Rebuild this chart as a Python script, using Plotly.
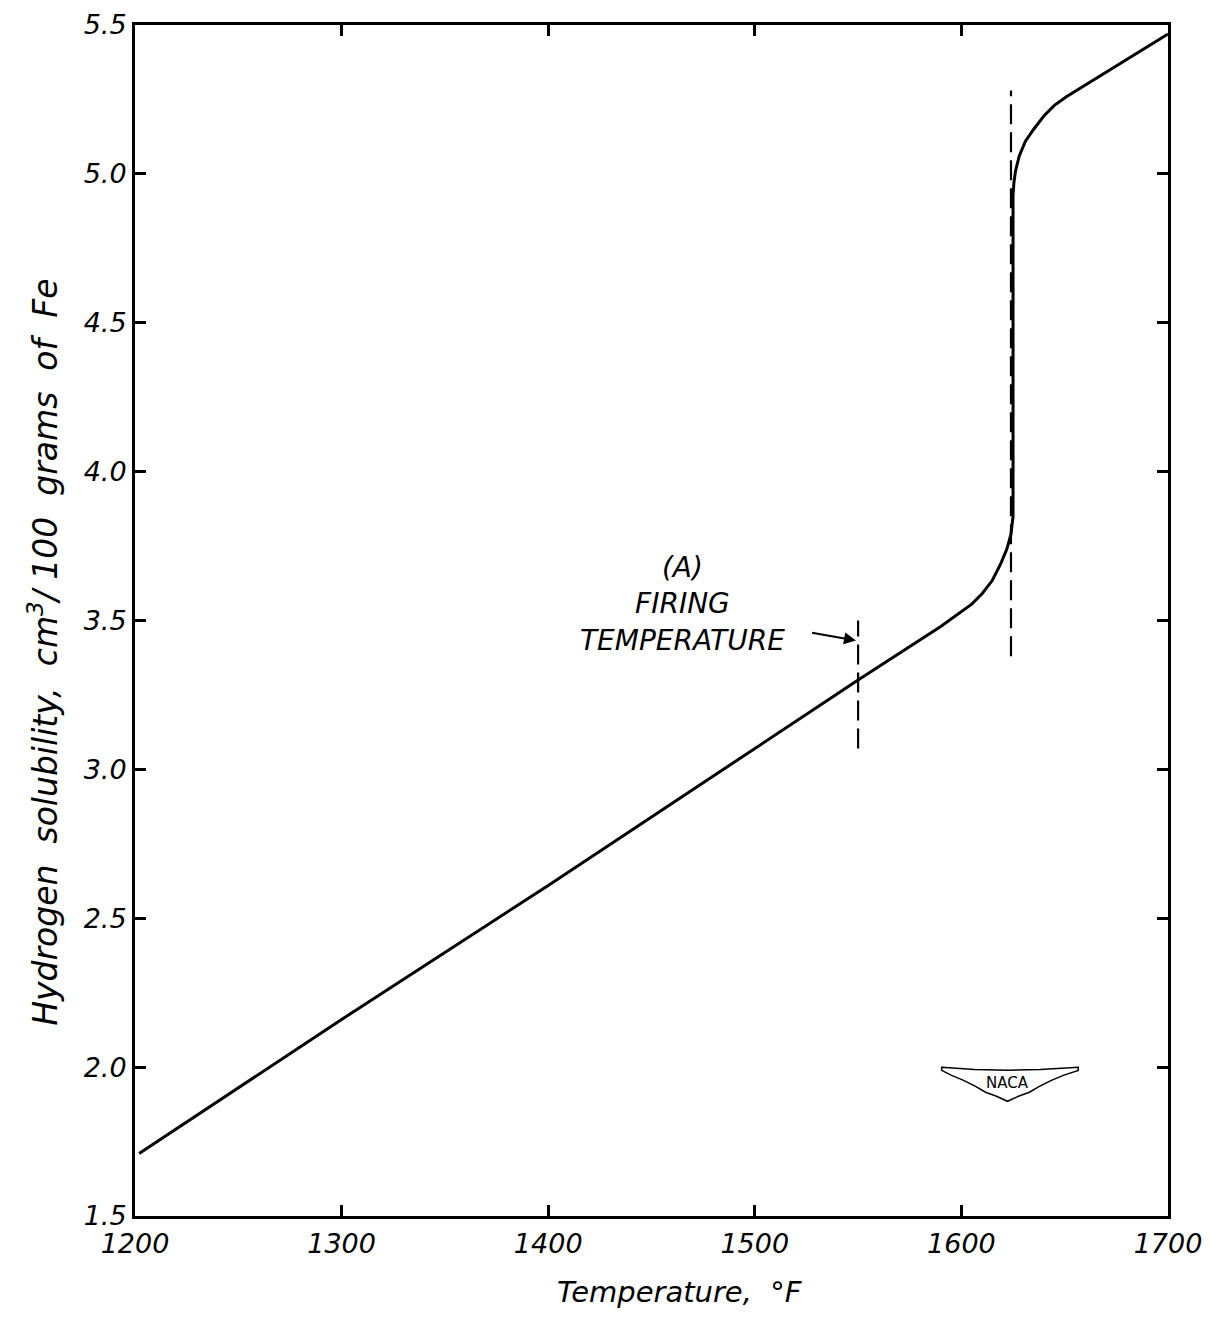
import plotly.graph_objects as go

# ---- data ----
temperature_f = [1202, 1300, 1400, 1500, 1550, 1590, 1600, 1605, 1610, 1615, 1619,
                 1622, 1624, 1625, 1625, 1625.4, 1626.2, 1628, 1631, 1635, 1640,
                 1645, 1651, 1700]
solubility = [1.71, 2.16, 2.61, 3.07, 3.30, 3.48, 3.53, 3.555, 3.59, 3.635, 3.69,
              3.74, 3.79, 3.85, 4.93, 4.97, 5.01, 5.06, 5.11, 5.15, 5.195,
              5.23, 5.26, 5.47]

firing_x = [1550, 1550]
firing_y = [3.07, 3.50]
transition_x = [1624, 1624]
transition_y = [3.38, 5.28]

x_ticks = [1200, 1300, 1400, 1500, 1600, 1700]
y_ticks = [1.5, 2.0, 2.5, 3.0, 3.5, 4.0, 4.5, 5.0, 5.5]
y_tick_labels = ["1.5", "2.0", "2.5", "3.0", "3.5", "4.0", "4.5", "5.0", "5.5"]

firing_label = "(A)<br>FIRING<br>TEMPERATURE"
firing_label_x = 1465
firing_label_y = 3.555

FONT = "DejaVu Sans"

fig = go.Figure()
fig.add_trace(go.Scatter(x=temperature_f, y=solubility, mode="lines",
                         line=dict(color="black", width=3), showlegend=False,
                         hoverinfo="skip"))
fig.add_trace(go.Scatter(x=firing_x, y=firing_y, mode="lines",
                         line=dict(color="black", width=2.2, dash="20px,8px"),
                         showlegend=False, hoverinfo="skip"))
fig.add_trace(go.Scatter(x=transition_x, y=transition_y, mode="lines",
                         line=dict(color="black", width=2.2, dash="20px,8px"),
                         showlegend=False, hoverinfo="skip"))

fig.add_annotation(x=firing_label_x, y=firing_label_y, xref="x", yref="y",
                   text=firing_label, showarrow=False, align="center",
                   xanchor="center", yanchor="middle",
                   font=dict(family=FONT, size=28, color="black", style="italic"))

# arrow pointing to firing temperature line
fig.add_annotation(x=1549, y=3.433, xref="x", yref="y", ax=1527, ay=3.46,
                   axref="x", ayref="y", text="", showarrow=True,
                   arrowhead=2, arrowsize=1.2, arrowwidth=2, arrowcolor="black")

# axis titles
fig.add_annotation(x=0.528, y=-0.064, xref="paper", yref="paper",
                   xanchor="center", yanchor="middle",
                   text="Temperature,\u00a0\u00a0°F", showarrow=False,
                   font=dict(family=FONT, size=29, color="black", style="italic"))
fig.add_annotation(x=-0.088, y=0.473, xref="paper", yref="paper", textangle=-90,
                   xanchor="center", yanchor="middle",
                   text="Hydrogen\u00a0\u00a0solubility,\u00a0\u00a0cm<sup>3</sup>/\u00a0100\u00a0\u00a0grams\u00a0\u00a0of\u00a0\u00a0Fe",
                   showarrow=False,
                   font=dict(family=FONT, size=33, color="black", style="italic"))

# NACA wing logo (decoration)
def px(x, y):
    return ((x - 133) / 1036, (1217 - y) / 1194)

wing = [(942, 1068), (975, 1070), (1008, 1071), (1041, 1070), (1079, 1068),
        (1079, 1071), (1064, 1076), (1052, 1081), (1040, 1087), (1030, 1093),
        (1019, 1097), (1008, 1102), (997, 1097), (986, 1093), (976, 1087),
        (964, 1081), (952, 1076), (942, 1071)]
path = "M " + " L ".join(f"{px(a, b)[0]:.4f},{px(a, b)[1]:.4f}" for a, b in wing) + " Z"
fig.add_shape(type="path", path=path, xref="paper", yref="paper",
              line=dict(color="black", width=1.5), fillcolor="white")
lx, ly = px(1008, 1084)
fig.add_annotation(x=lx, y=ly, xref="paper", yref="paper", text="NACA", showarrow=False,
                   xanchor="center", yanchor="middle",
                   font=dict(family=FONT, size=15, color="black"))

axis_common = dict(showgrid=False, zeroline=False, showline=True, linecolor="black",
                   linewidth=3, mirror="ticks", ticks="inside", ticklen=11,
                   tickwidth=2.5, tickcolor="black", ticklabeloverflow="allow",
                   automargin=False,
                   tickfont=dict(family=FONT, size=27, color="black", style="italic"))

fig.update_xaxes(range=[1200, 1700], tickvals=x_ticks, ticklabelstandoff=2, **axis_common)
fig.update_yaxes(range=[1.5, 5.5], tickvals=y_ticks, ticktext=y_tick_labels,
                 ticklabelstandoff=0, **axis_common)

fig.update_layout(width=1210, height=1328, plot_bgcolor="white", paper_bgcolor="white",
                  margin=dict(l=127, r=50, t=17, b=120), showlegend=False)

fig.write_html("out.html")
